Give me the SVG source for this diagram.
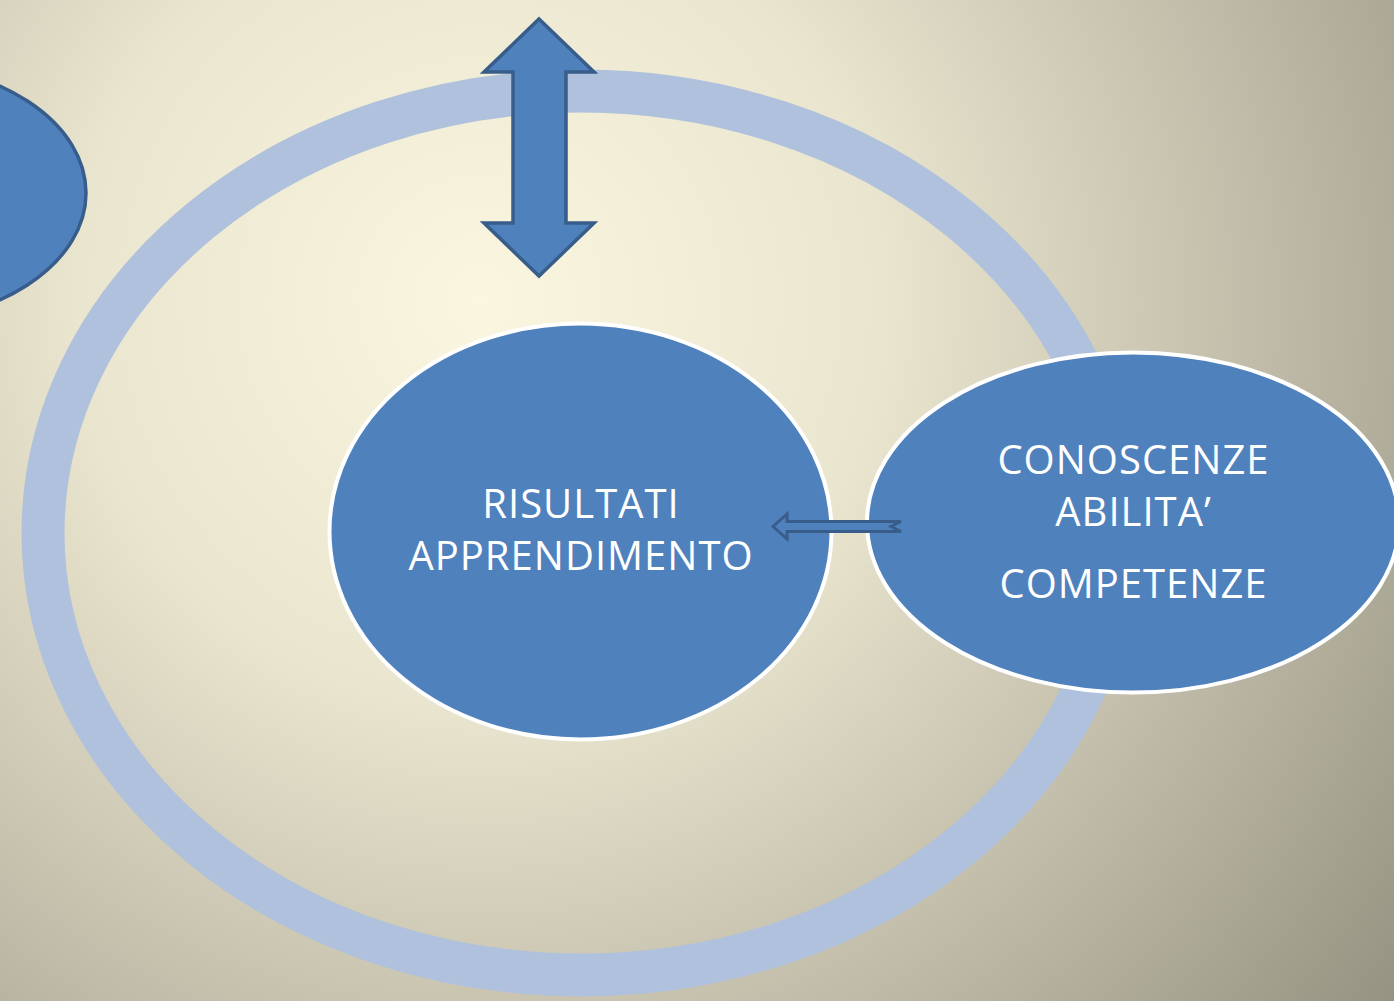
<svg xmlns="http://www.w3.org/2000/svg" width="1394" height="1001" viewBox="0 0 1394 1001">
<defs>
<radialGradient id="bg" gradientUnits="userSpaceOnUse" cx="480" cy="300" r="1150">
<stop offset="0" stop-color="#FBF6E0"/>
<stop offset="0.35" stop-color="#E9E5CE"/>
<stop offset="0.7" stop-color="#BDB9A6"/>
<stop offset="1" stop-color="#979382"/>
</radialGradient>
<style>
.node{fill:#4F81BD;}
.white{stroke:#FFFFFF;stroke-width:4;}
.dark{stroke:#385D8A;stroke-width:3.5;}
.lbl{font-family:"Open Sans","Liberation Sans",sans-serif;font-size:40px;fill:#FFFFFF;text-anchor:middle;letter-spacing:1px;}
</style>
</defs>
<rect width="1394" height="1001" fill="url(#bg)"/>
<g id="ring">
<ellipse cx="581" cy="533" rx="538" ry="442" fill="none" stroke="#B0C1DD" stroke-width="43"/>
</g>
<g id="left-node">
<ellipse class="node dark" cx="-114" cy="193" rx="200" ry="130"/>
</g>
<g id="center-node">
<ellipse class="node white" cx="580.5" cy="531.5" rx="251" ry="208"/>
<text class="lbl" x="581" y="518">RISULTATI</text>
<text class="lbl" x="581" y="570">APPRENDIMENTO</text>
</g>
<g id="right-node">
<ellipse class="node white" cx="1133" cy="522.5" rx="266" ry="170"/>
<text class="lbl" x="1133.5" y="474">CONOSCENZE</text>
<text class="lbl" x="1133.5" y="526">ABILITA’</text>
<text class="lbl" x="1133.5" y="598">COMPETENZE</text>
</g>
<g id="connectors">
<path class="node dark" d="M539,19 L594,72 L566,72 L566,223 L594,223 L539,276 L484,223 L513,223 L513,72 L484,72 Z"/>
<path d="M773,526.5 L787,514 L787,521.5 L901,521.5 L891,526.5 L901,531.5 L787,531.5 L787,539 Z" fill="#4F81BD" stroke="#385D8A" stroke-width="3"/>
</g>
</svg>
